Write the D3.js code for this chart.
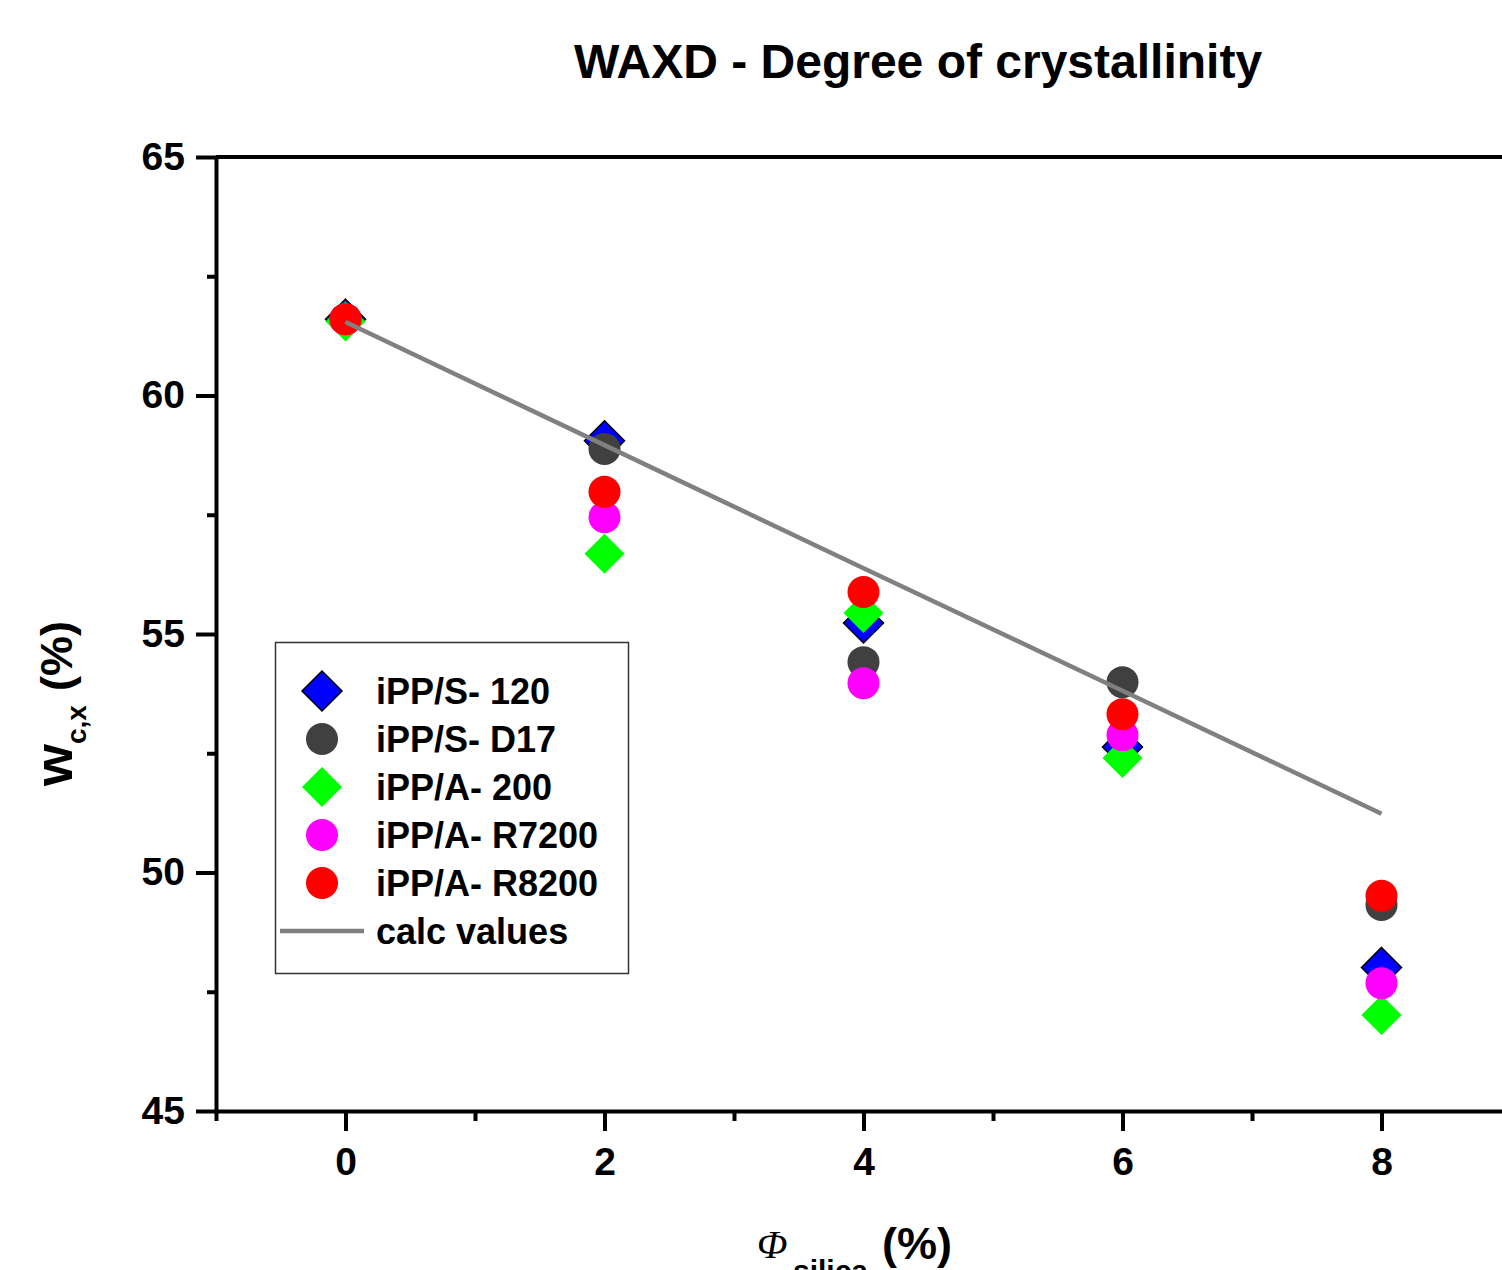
<!DOCTYPE html>
<html>
<head>
<meta charset="utf-8">
<script src="https://cdn.jsdelivr.net/npm/d3@7"></script>
<style>
    body { margin: 0; background: #fff; }
    svg { display: block; font-family: "Liberation Sans", Arial, sans-serif; }
    .axis path, .axis line { stroke: #000; stroke-width: 4px; }
    .axis text { font-size: 39px; font-weight: bold; fill: #000; }
    .legend text { font-size: 36px; font-weight: bold; }
</style>
</head>
<body>
<script>
// values
var phi = [0, 2, 4, 6, 8];
var s120 = [61.60, 59.05, 55.23, 52.63, 48.01];
var d17 = [61.60, 58.88, 54.41, 53.99, 49.32];
var a200 = [61.55, 56.68, 55.44, 52.40, 47.01];
var r7200 = [61.60, 57.45, 53.97, 52.88, 47.68];
var r8200 = [61.60, 57.98, 55.88, 53.32, 49.51];
var calc = [61.54, 58.96, 56.38, 53.81, 51.23];

var xMajor = [0, 2, 4, 6, 8];
var xMinor = [-1, 1, 3, 5, 7, 9];
var yMajor = [45, 50, 55, 60, 65];
var yMinor = [47.5, 52.5, 57.5, 62.5];

var series = [
    {name: "iPP/S- 120", values: s120, shape: "diamond", fill: "#0000ff", stroke: "#000"},
    {name: "iPP/S- D17", values: d17, shape: "circle", fill: "#404040", stroke: "none"},
    {name: "iPP/A- 200", values: a200, shape: "diamond", fill: "#00ff00", stroke: "none"},
    {name: "iPP/A- R7200", values: r7200, shape: "circle", fill: "#ff00ff", stroke: "none"},
    {name: "iPP/A- R8200", values: r8200, shape: "circle", fill: "#ff0000", stroke: "none"}
];

var width = 1502, height = 1270;

var svg = d3.select("body").append("svg")
    .attr("width", width)
    .attr("height", height);

var x = d3.scaleLinear().domain([-1, 9]).range([216, 1511]);
var y = d3.scaleLinear().domain([45, 65]).range([1111, 157]);

// title
svg.append("text")
    .attr("x", 918)
    .attr("y", 78)
    .attr("text-anchor", "middle")
    .style("font-size", "48px")
    .style("font-weight", "bold")
    .text("WAXD - Degree of crystallinity");

// top frame line
svg.append("line")
    .attr("x1", x(-1)).attr("x2", x(9))
    .attr("y1", y(65)).attr("y2", y(65))
    .style("stroke", "#000").style("stroke-width", 4);

// axes
svg.append("g").attr("class", "axis")
    .attr("transform", "translate(0," + y(45) + ")")
    .call(d3.axisBottom(x).tickValues(xMinor).tickSize(10).tickFormat(""))
    .select(".domain").remove();
svg.append("g").attr("class", "axis")
    .attr("transform", "translate(0," + y(45) + ")")
    .call(d3.axisBottom(x).tickValues(xMajor).tickSize(20).tickPadding(16).tickSizeOuter(0));

svg.append("g").attr("class", "axis")
    .attr("transform", "translate(" + x(-1) + ",0)")
    .call(d3.axisLeft(y).tickValues(yMinor).tickSize(9).tickFormat(""))
    .select(".domain").remove();
svg.append("g").attr("class", "axis")
    .attr("transform", "translate(" + x(-1) + ",0)")
    .call(d3.axisLeft(y).tickValues(yMajor).tickSize(20).tickPadding(11).tickSizeOuter(0));

function marker(sel, d) {
    if (d.shape == "diamond") {
        sel.append("path")
            .attr("d", "M0,-20L20,0L0,20L-20,0Z")
            .style("fill", d.fill)
            .style("stroke", d.stroke)
            .style("stroke-width", 1.5);
    } else {
        sel.append("circle")
            .attr("r", 16)
            .style("fill", d.fill);
    }
}

// points
series.forEach(function(s) {
    svg.append("g").selectAll("g")
        .data(s.values)
        .enter().append("g")
        .attr("transform", function(v, i) { return "translate(" + x(phi[i]) + "," + y(v) + ")"; })
        .each(function() { marker(d3.select(this), s); });
});

// calc line
var line = d3.line()
    .x(function(d, i) { return x(phi[i]); })
    .y(function(d) { return y(d); });
svg.append("path")
    .datum(calc)
    .attr("d", line)
    .style("fill", "none")
    .style("stroke", "#808080")
    .style("stroke-width", 4.5);

// legend
var legend = svg.append("g").attr("class", "legend");
legend.append("rect")
    .attr("x", 275.5).attr("y", 642.5)
    .attr("width", 353).attr("height", 331)
    .style("fill", "none")
    .style("stroke", "#333")
    .style("stroke-width", 1.5);

var ls_h = 48;
var rows = legend.selectAll("g.row")
    .data(series)
    .enter().append("g")
    .attr("class", "row")
    .attr("transform", function(d, i) { return "translate(0," + (691 + i * ls_h) + ")"; });
rows.each(function(d) {
    var g = d3.select(this).append("g").attr("transform", "translate(322,0)");
    marker(g, d);
});
rows.append("text")
    .attr("x", 376)
    .attr("y", 13)
    .text(function(d) { return d.name; });

legend.append("line")
    .attr("x1", 280).attr("x2", 364)
    .attr("y1", 691 + 5 * ls_h).attr("y2", 691 + 5 * ls_h)
    .style("stroke", "#808080")
    .style("stroke-width", 4.5);
legend.append("text")
    .attr("x", 376)
    .attr("y", 691 + 5 * ls_h + 13)
    .text("calc values");

// y axis label
var yl = svg.append("text")
    .attr("transform", "translate(72,786) rotate(-90)")
    .style("font-weight", "bold");
yl.append("tspan").style("font-size", "54px").text("w");
yl.append("tspan").style("font-size", "28px").attr("dy", 14).text("c,x");
yl.append("tspan").style("font-size", "45px").attr("dy", -14).attr("dx", 14).text("(%)");

// x axis label
svg.append("text")
    .attr("x", 757).attr("y", 1258)
    .style("font-family", "'Liberation Serif', serif")
    .style("font-style", "italic")
    .style("font-size", "40px")
    .text("Φ");
svg.append("text")
    .attr("x", 793).attr("y", 1281)
    .style("font-weight", "bold")
    .style("font-size", "30px")
    .text("silica");
svg.append("text")
    .attr("x", 882).attr("y", 1259)
    .style("font-weight", "bold")
    .style("font-size", "45px")
    .text("(%)");
</script>
</body>
</html>
